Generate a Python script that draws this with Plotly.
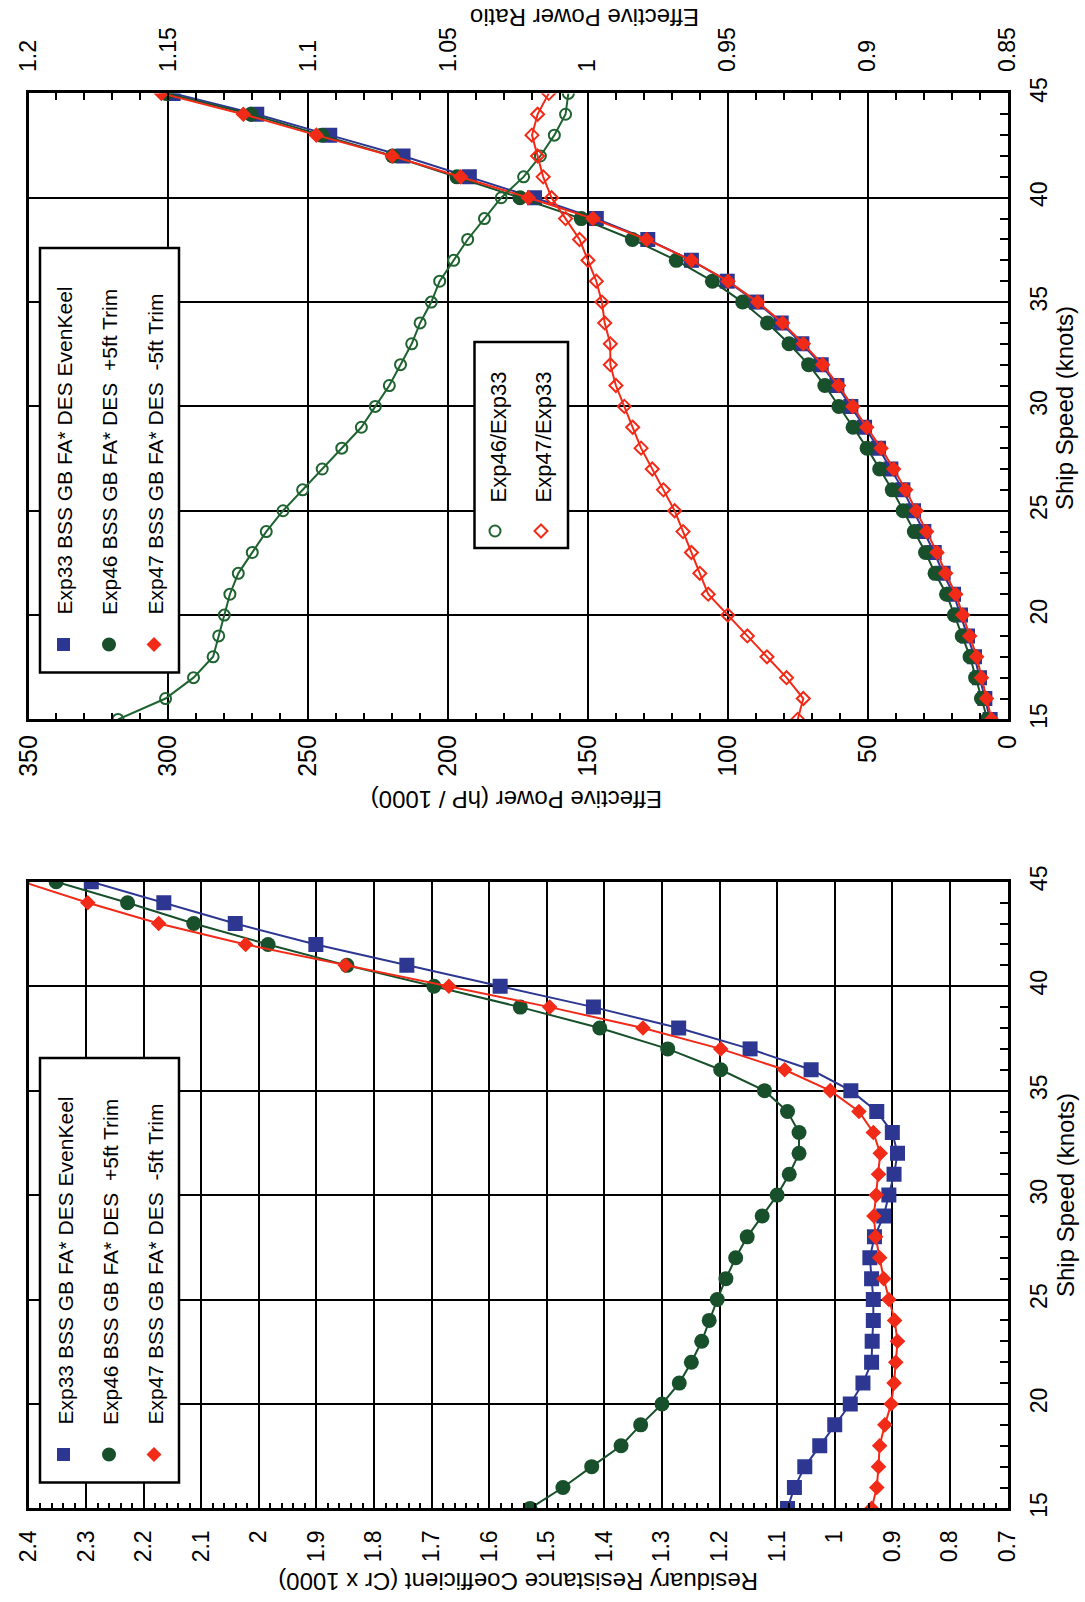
import plotly.graph_objects as go

# ---------------- data ----------------
speed = list(range(15, 46))

cr_exp33 = [1.082, 1.070, 1.052, 1.026, 1.000, 0.973, 0.951, 0.936, 0.935, 0.933,
            0.933, 0.936, 0.939, 0.931, 0.915, 0.906, 0.897, 0.891, 0.900, 0.927,
            0.972, 1.041, 1.147, 1.271, 1.419, 1.581, 1.743, 1.901, 2.041, 2.165, 2.291]
cr_exp46 = [1.529, 1.472, 1.422, 1.371, 1.337, 1.300, 1.270, 1.249, 1.231, 1.218,
            1.204, 1.189, 1.172, 1.152, 1.126, 1.100, 1.079, 1.062, 1.062, 1.082,
            1.122, 1.198, 1.290, 1.408, 1.546, 1.696, 1.847, 1.984, 2.113, 2.228, 2.352]
cr_exp47 = [0.936, 0.927, 0.924, 0.922, 0.913, 0.902, 0.897, 0.894, 0.891, 0.896,
            0.906, 0.915, 0.922, 0.929, 0.932, 0.928, 0.924, 0.921, 0.933, 0.958,
            1.008, 1.087, 1.198, 1.333, 1.495, 1.670, 1.850, 2.023, 2.174, 2.297, 2.410]

ehp_exp33 = [6.2, 8.1, 10.0, 11.8, 14.3, 16.8, 19.3, 23.0, 26.2, 29.9,
             33.6, 37.4, 41.7, 46.1, 51.1, 56.0, 61.0, 66.6, 73.5, 80.9,
             89.7, 100.2, 113.0, 128.6, 147.0, 169.1, 192.4, 216.1, 242.3, 268.4, 298.3]
ehp_exp46 = [7.2, 9.3, 11.4, 13.4, 16.2, 19.0, 21.8, 25.9, 29.3, 33.3,
             37.3, 41.2, 45.7, 50.2, 55.2, 60.3, 65.3, 71.1, 78.1, 85.8,
             94.7, 105.5, 118.4, 134.1, 152.4, 174.3, 196.8, 219.8, 245.2, 270.5, 300.7]
ehp_exp47 = [5.7, 7.5, 9.3, 11.0, 13.5, 16.0, 18.5, 22.1, 25.2, 28.9,
             32.6, 36.4, 40.7, 45.2, 50.3, 55.3, 60.4, 66.1, 73.0, 80.4,
             89.3, 99.9, 113.0, 129.0, 148.2, 171.3, 195.5, 220.0, 247.1, 273.2, 302.5]

ratio_46_33 = [1.168, 1.151, 1.141, 1.134, 1.132, 1.130, 1.128, 1.125, 1.120, 1.115,
               1.109, 1.102, 1.095, 1.088, 1.081, 1.076, 1.071, 1.067, 1.063, 1.060,
               1.056, 1.053, 1.048, 1.043, 1.037, 1.031, 1.023, 1.017, 1.012, 1.008, 1.007]
ratio_47_33 = [0.925, 0.923, 0.929, 0.936, 0.943, 0.950, 0.957, 0.960, 0.963, 0.966,
               0.969, 0.973, 0.977, 0.981, 0.984, 0.987, 0.990, 0.992, 0.992, 0.994,
               0.995, 0.997, 1.000, 1.003, 1.008, 1.013, 1.016, 1.018, 1.020, 1.018, 1.014]

series_names = ["Exp33 BSS GB FA* DES EvenKeel",
                "Exp46 BSS GB FA* DES  +5ft Trim",
                "Exp47 BSS GB FA* DES  -5ft Trim"]
ratio_names = ["Exp46/Exp33", "Exp47/Exp33"]

cr_tickvals = [2.4, 2.3, 2.2, 2.1, 2.0, 1.9, 1.8, 1.7, 1.6, 1.5, 1.4, 1.3, 1.2, 1.1, 1.0, 0.9, 0.8, 0.7]
cr_ticktext = ["2.4", "2.3", "2.2", "2.1", "2", "1.9", "1.8", "1.7", "1.6", "1.5",
               "1.4", "1.3", "1.2", "1.1", "1", "0.9", "0.8", "0.7"]
ehp_tickvals = [0, 50, 100, 150, 200, 250, 300, 350]
ratio_tickvals = [0.85, 0.9, 0.95, 1.0, 1.05, 1.1, 1.15, 1.2]
ratio_ticktext = ["0.85", "0.9", "0.95", "1", "1.05", "1.1", "1.15", "1.2"]
speed_tickvals = [15, 20, 25, 30, 35, 40, 45]

title_cr = "Residuary Resistance Coefficient (Cr x 1000)"
title_ehp = "Effective Power (hP / 1000)"
title_ratio = "Effective Power Ratio"
title_speed = "Ship Speed (knots)"

# ---------------- style ----------------
W, H = 1085, 1602
X0, X1 = 28.5, 1007.5
TOP_Y0, TOP_Y1 = 93.4, 719.4
BOT_Y0, BOT_Y1 = 881.8, 1508.4

BLUE = "#2D3792"
GREEN = "#17502A"
RED = "#F22A18"
GREEN_R = "#1F6430"
FONT = "Liberation Sans, Arial, Helvetica, sans-serif"


def px(x):
    return x / W


def py(y):
    return 1 - y / H


fig = go.Figure()

# bottom panel: Cr
for vals, col, sym, size in [(cr_exp33, BLUE, "square", 15),
                             (cr_exp46, GREEN, "circle", 15),
                             (cr_exp47, RED, "diamond", 12)]:
    fig.add_trace(go.Scatter(x=vals, y=speed, xaxis="x", yaxis="y", mode="lines+markers",
                             line=dict(color=col, width=2),
                             marker=dict(symbol=sym, size=size, color=col, line=dict(width=0)),
                             showlegend=False))

# top panel: power
for vals, col, sym, size in [(ehp_exp33, BLUE, "square", 15),
                             (ehp_exp46, GREEN, "circle", 15),
                             (ehp_exp47, RED, "diamond", 12)]:
    fig.add_trace(go.Scatter(x=vals, y=speed, xaxis="x2", yaxis="y2", mode="lines+markers",
                             line=dict(color=col, width=2),
                             marker=dict(symbol=sym, size=size, color=col, line=dict(width=0)),
                             showlegend=False))

# top panel: ratios
fig.add_trace(go.Scatter(x=ratio_46_33, y=speed, xaxis="x3", yaxis="y2", mode="lines+markers",
                         line=dict(color=GREEN_R, width=2),
                         marker=dict(symbol="circle-open", size=11, color=GREEN_R, line=dict(width=2)),
                         showlegend=False))
fig.add_trace(go.Scatter(x=ratio_47_33, y=speed, xaxis="x3", yaxis="y2", mode="lines+markers",
                         line=dict(color=RED, width=2),
                         marker=dict(symbol="diamond-open", size=10, color=RED, line=dict(width=2)),
                         showlegend=False))

common = dict(showline=True, linecolor="black", linewidth=2.5, showgrid=True,
              gridcolor="black", gridwidth=2, zeroline=False, tickangle=-90, automargin=False,
              tickfont=dict(family=FONT, size=23, color="black"))

fig.update_layout(
    width=W, height=H, autosize=False,
    margin=dict(l=0, r=0, t=0, b=0, autoexpand=False),
    paper_bgcolor="white", plot_bgcolor="white",
    font=dict(family=FONT, color="black"),
    xaxis=dict(domain=[px(X0), px(X1)], anchor="y", range=[2.4, 0.7], mirror=True,
               tickmode="array", tickvals=cr_tickvals, ticktext=cr_ticktext,
               ticks="inside", ticklen=6, tickwidth=1.5, tickcolor="black",
               ticklabelstandoff=10,
               minor=dict(dtick=0.02, tick0=0.7, ticks="inside", ticklen=6, tickwidth=1.5,
                          tickcolor="black", showgrid=False),
               **common),
    yaxis=dict(domain=[py(BOT_Y1), py(BOT_Y0)], anchor="x", side="right", range=[15, 45],
               mirror=True, tickmode="array", tickvals=speed_tickvals,
               ticks="inside", ticklen=8, tickwidth=1.5, tickcolor="black",
               ticklabelstandoff=9,
               minor=dict(dtick=1, tick0=15, ticks="inside", ticklen=8, tickwidth=1.5,
                          tickcolor="black", showgrid=False),
               **common),
    xaxis2=dict(domain=[px(X0), px(X1)], anchor="y2", range=[350, 0], mirror=True,
                tickmode="array", tickvals=ehp_tickvals,
                ticks="inside", ticklen=7, tickwidth=1.5, tickcolor="black",
                ticklabelstandoff=3,
                minor=dict(dtick=10, tick0=0, ticks="inside", ticklen=7, tickwidth=1.5,
                           tickcolor="black", showgrid=False),
                **{**common, "tickfont": dict(family=FONT, size=25, color="black")}),
    xaxis3=dict(overlaying="x2", anchor="y2", side="top", range=[1.2, 0.85],
                tickmode="array", tickvals=ratio_tickvals, ticktext=ratio_ticktext,
                ticks="inside", ticklen=7, tickwidth=1.5, tickcolor="black",
                ticklabelstandoff=14,
                minor=dict(dtick=0.01, tick0=0.85, ticks="inside", ticklen=7, tickwidth=1.5,
                           tickcolor="black", showgrid=False),
                **{**common, "showgrid": False}),
    yaxis2=dict(domain=[py(TOP_Y1), py(TOP_Y0)], anchor="x2", side="right", range=[15, 45],
                mirror=True, tickmode="array", tickvals=speed_tickvals,
                ticks="inside", ticklen=8, tickwidth=1.5, tickcolor="black",
                ticklabelstandoff=9,
                minor=dict(dtick=1, tick0=15, ticks="inside", ticklen=8, tickwidth=1.5,
                           tickcolor="black", showgrid=False),
                **common),
)

shapes = []
annotations = []


def box(x0, y0, x1, y1):
    shapes.append(dict(type="rect", xref="paper", yref="paper",
                       x0=px(x0), y0=py(y1), x1=px(x1), y1=py(y0),
                       fillcolor="white", line=dict(color="black", width=2.5), layer="above"))


def marker_shape(kind, cx, cy, s, col, filled=True):
    fill = col if filled else "rgba(0,0,0,0)"
    lw = 0 if filled else 2
    if kind == "square":
        shapes.append(dict(type="rect", xref="paper", yref="paper",
                           x0=px(cx - s / 2), x1=px(cx + s / 2), y0=py(cy + s / 2), y1=py(cy - s / 2),
                           fillcolor=fill, line=dict(color=col, width=lw), layer="above"))
    elif kind == "circle":
        shapes.append(dict(type="circle", xref="paper", yref="paper",
                           x0=px(cx - s / 2), x1=px(cx + s / 2), y0=py(cy + s / 2), y1=py(cy - s / 2),
                           fillcolor=fill, line=dict(color=col, width=lw), layer="above"))
    else:
        r = s / 2
        path = "M {} {} L {} {} L {} {} L {} {} Z".format(
            px(cx), py(cy - r), px(cx + r), py(cy), px(cx), py(cy + r), px(cx - r), py(cy))
        shapes.append(dict(type="path", xref="paper", yref="paper", path=path,
                           fillcolor=fill, line=dict(color=col, width=lw), layer="above"))


def legend_text(text, cx, ybottom, size):
    annotations.append(dict(text=text, xref="paper", yref="paper", x=px(cx), y=py(ybottom),
                            xanchor="center", yanchor="bottom", textangle=-90, showarrow=False,
                            font=dict(family=FONT, size=size, color="black")))


# main legends (top and bottom panels)
for btop in [248.0, 1058.0]:
    box(40, btop, 179, btop + 424.5)
    rows_x = [63.5, 109.0, 154.0]
    kinds = [("square", BLUE, 13), ("circle", GREEN, 14), ("diamond", RED, 15)]
    for name, cx, (kind, col, s) in zip(series_names, rows_x, kinds):
        legend_text(name, cx + 1, btop + 369, 21)
        marker_shape(kind, cx, btop + 396.5, s, col, True)

# ratio legend
box(474.5, 342, 568, 548)
legend_text(ratio_names[0], 498, 505, 22)
legend_text(ratio_names[1], 543, 505, 22)
marker_shape("circle", 495, 531, 11, GREEN_R, False)
marker_shape("diamond", 541, 531, 13, RED, False)


# axis titles
def title(text, cx, cy, angle, size=24):
    annotations.append(dict(text=text, xref="paper", yref="paper", x=px(cx), y=py(cy),
                            xanchor="center", yanchor="middle", textangle=angle, showarrow=False,
                            font=dict(family=FONT, size=size, color="black")))


title(title_ratio, 585, 18, 180)
title(title_ehp, 517, 800, 180)
title(title_cr, 518, 1582, 180)
title(title_speed, 1065, 408, -90)
title(title_speed, 1065, 1195, -90)

fig.update_layout(shapes=shapes, annotations=annotations)
fig.write_html("out.html", config={"displayModeBar": False},
               post_script="document.body.style.margin='0px';")
